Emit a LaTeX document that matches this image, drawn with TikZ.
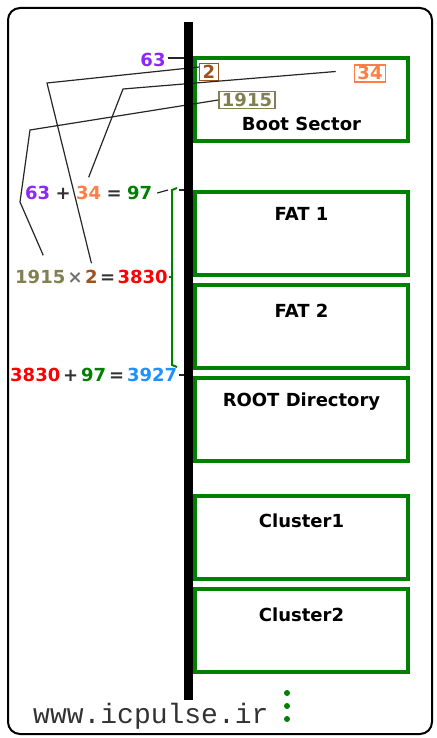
\documentclass[tikz,border=0pt]{standalone}
\usepackage{fontspec}
\setmainfont{DejaVu Sans}
\setmonofont{Liberation Mono}
\usetikzlibrary{positioning}
\definecolor{numviolet}{RGB}{140,40,250}
\definecolor{numcoral}{RGB}{255,125,70}
\definecolor{numbrown}{RGB}{160,82,30}
\definecolor{numolive}{RGB}{128,128,80}
\definecolor{numgreen}{RGB}{0,128,0}
\definecolor{numred}{RGB}{255,0,0}
\definecolor{numblue}{RGB}{30,144,255}
\definecolor{opgray}{RGB}{50,50,50}
\newcommand{\numfont}{\fontsize{18}{20}\selectfont\bfseries}
\newcommand{\webfont}{\fontsize{28}{30}\selectfont\ttfamily}

\begin{document}
\begin{tikzpicture}[x=1pt,y=-1pt,
  wire/.style={draw=black!85,line width=1.2pt},
  sector/.style={draw=numgreen,line width=4pt,minimum width=213pt,minimum height=83pt},
  title/.style={inner sep=0pt,font=\numfont},
  num/.style={inner sep=0pt,font=\numfont,text height=13pt,text depth=0pt},
  op/.style={num,text=opgray},
  tag/.style={num,draw,line width=1.5pt,inner xsep=3pt,inner ysep=2pt}]

	\useasboundingbox (0,0) rectangle (436,738);
	% the frame
	\draw[line width=2pt,rounded corners=12pt] (8,8) rectangle (432,734);

	% the disk and its areas
	\coordinate (bartop) at (188,22);
	\coordinate (barbot) at (188,700);
	\node[sector] (boot) at (301.5,100) {};
	\node[sector,below=46pt of boot] (fat1) {};
	\node[sector,below=6pt of fat1] (fat2) {};
	\node[sector,below=6pt of fat2] (root) {};
	\node[sector,below=31pt of root] (clu1) {};
	\node[sector,below=6pt of clu1] (clu2) {};

	\node[title,below=60pt of boot.north] (bootname) {Boot Sector};
	\node[title,below=18pt of fat1.north] (fat1name) {FAT 1};
	\node[title,below=21pt of fat2.north] (fat2name) {FAT 2};
	\node[title,below=17pt of root.north] (rootname) {ROOT Directory};
	\node[title,below=20pt of clu1.north] (clu1name) {Cluster1};
	\node[title,below=21pt of clu2.north] (clu2name) {Cluster2};

	% the fields of the boot sector
	\node[tag,draw=numbrown,text=numbrown] (box2) at (209,72) {2};
	\node[tag,draw=numcoral,text=numcoral] (box34) at (370,73.5) {34};
	\node[tag,draw=numolive,text=numolive] (box1915) at (247,100) {1915};
	\node[num,text=numviolet] (top63) at (153,60) {63};

	% first sum: start of the FAT
	\node[num,text=numviolet,anchor=west] (eqa63) at (25,193) {63};
	\node[op,right=5pt of eqa63] (eqaplus) {+};
	\node[num,text=numcoral,right=5pt of eqaplus] (eqa34) {34};
	\node[op,right=5pt of eqa34] (eqaeq) {=};
	\node[num,text=numgreen,right=5pt of eqaeq] (eqa97) {97};

	% size of both FATs
	\node[num,text=numolive,anchor=west] (eqb1915) at (15,277) {1915};
	\node[op,text=black!55,right=2pt of eqb1915] (eqbtimes) {×};
	\node[num,text=numbrown,right=2pt of eqbtimes] (eqb2) {2};
	\node[op,right=2pt of eqb2] (eqbeq) {=};
	\node[num,text=numred,right=2pt of eqbeq] (eqb3830) {3830};

	% start of the root directory
	\node[num,text=numred,anchor=west] (eqc3830) at (10,375) {3830};
	\node[op,right=2.5pt of eqc3830] (eqcplus) {+};
	\node[num,text=numgreen,right=2.5pt of eqcplus] (eqc97) {97};
	\node[op,right=2.5pt of eqc97] (eqceq) {=};
	\node[num,text=numblue,right=2.5pt of eqceq] (eqc3927) {3927};

	% the leader lines
	\coordinate (tail34) at ([xshift=-18pt,yshift=2pt]box34.west);
	\draw[wire] ([yshift=5pt]box2.west) -- (47,83) -- ([yshift=7pt]eqb2.north);
	\draw[wire] (tail34) -- (123,89) -- ([yshift=9pt]eqa34.north);
	\draw[wire] (box1915.west) -- (30,130) -- (20,202) -- ([xshift=3pt,yshift=15pt]eqb1915.north);
	\draw[wire] ([xshift=2pt,yshift=2pt]top63.east) -- ([yshift=2pt]top63.east -| bartop);

	% the FAT bracket
	\coordinate (fatbeg) at (172,190);
	\coordinate (fatend) at (172,365);
	\draw[wire] ([xshift=5pt]eqa97.east) -- ([xshift=-4pt]fatbeg);
	\draw[numgreen,line width=2pt] ([xshift=5pt,yshift=2pt]fatbeg) -- (fatbeg) -- (fatend) -- ([xshift=5pt,yshift=-2pt]fatend);
	\draw[numgreen,line width=2pt] ([xshift=1pt]eqb3830.east) -- (fatbeg |- eqb3830.east);
	\draw[wire] ([xshift=7pt]fatbeg) -- (fatbeg -| bartop);
	\draw[wire] ([xshift=2pt]eqc3927.east) -- (eqc3927.east -| bartop);

	% the disk line on top
	\draw[line width=9pt] (bartop) -- (barbot);

	% more clusters follow
	\foreach \y in {693,706,719}
		\fill[numgreen] (287,\y) circle (3pt);

	\node[anchor=base west,font=\webfont,text=opgray,inner sep=0pt] (site) at (33,723) {www.icpulse.ir};

\end{tikzpicture}
\end{document}
